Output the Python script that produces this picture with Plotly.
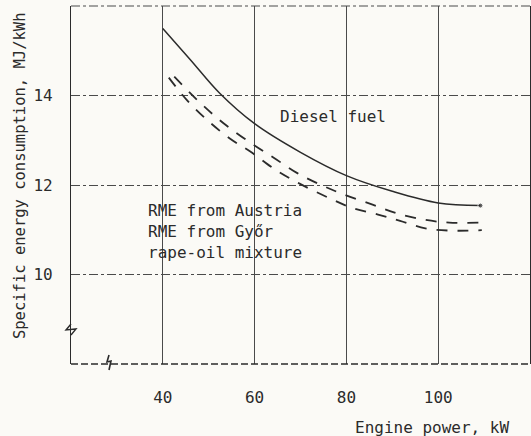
import plotly.graph_objects as go

INK = "#2b2b2b"
GRID = "#4a4a4a"
PAPER = "#fbfaf6"
FONT = "DejaVu Sans Mono"

# Diesel fuel (solid)
diesel_kw = [40, 46, 52.4, 60, 70, 80, 90, 100, 109.2]
diesel_mj = [15.50, 14.80, 14.05, 13.37, 12.73, 12.21, 11.86, 11.60, 11.54]

# upper dashed curve
rme_austria_kw = [42.5, 47.5, 52.4, 58.0, 64.0, 69.4, 74.7, 79.4, 85.7, 91.2, 97.2, 102.4, 109.5]
rme_austria_mj = [14.42, 13.90, 13.45, 13.02, 12.62, 12.26, 11.99, 11.79, 11.56, 11.36, 11.22, 11.16, 11.16]

# lower dashed curve
rme_gyor_kw = [41.3, 45.4, 49.9, 54.6, 59.3, 64.7, 69.8, 76.0, 81.2, 86.9, 91.7, 97.2, 103.0, 109.5]
rme_gyor_mj = [14.40, 13.88, 13.43, 13.04, 12.73, 12.33, 12.03, 11.72, 11.49, 11.34, 11.20, 11.03, 10.98, 10.99]

x_ticks = [40, 60, 80, 100]
x_tick_text = ["40", "60", "80", "100"]
y_ticks = [10, 12, 14]
y_tick_text = ["10", "12", "14"]

fig = go.Figure()
fig.add_trace(go.Scatter(
    x=diesel_kw, y=diesel_mj, mode="lines+markers", line_shape="spline",
    line=dict(color=INK, width=1.5),
    marker=dict(size=[0] * (len(diesel_kw) - 1) + [5], color=INK),
    name="Diesel fuel", showlegend=False,
))
fig.add_trace(go.Scatter(
    x=rme_austria_kw, y=rme_austria_mj, mode="lines", line_shape="spline",
    line=dict(color=INK, width=1.8, dash="11px,10px"),
    name="RME from Austria", showlegend=False,
))
fig.add_trace(go.Scatter(
    x=rme_gyor_kw, y=rme_gyor_mj, mode="lines", line_shape="spline",
    line=dict(color=INK, width=1.8, dash="11px,10px"),
    name="RME from Győr", showlegend=False,
))

# frame: dashed bottom, dash-dot top, broken-axis marks
fig.add_shape(type="line", xref="paper", yref="paper", x0=0, x1=1, y0=0, y1=0,
              line=dict(color=INK, width=1.3, dash="7px,3px"))
fig.add_shape(type="line", xref="paper", yref="paper", x0=0, x1=1, y0=1, y1=1,
              line=dict(color=GRID, width=1.2, dash="dashdot"))
fig.add_shape(type="path", xref="paper", yref="paper",
              path="M 0,0.1117 L -0.0109,0.095 L 0.0109,0.0978 L 0,0.081",
              line=dict(color=INK, width=1.4))
fig.add_shape(type="path", xref="paper", yref="paper",
              path="M 0.0828,0.0251 L 0.0784,0.0056 L 0.0871,0.0084 L 0.0828,-0.0168",
              line=dict(color=INK, width=1.6))

fig.add_annotation(x=65.2, y=13.52, text="Diesel fuel", showarrow=False, xanchor="left",
                   font=dict(family=FONT, size=16, color=INK))
fig.add_annotation(x=36.3, y=10.95, text="RME from Austria<br>RME from Győr<br>rape-oil mixture",
                   showarrow=False, xanchor="left", yanchor="middle", align="left",
                   font=dict(family=FONT, size=16, color=INK))
fig.add_annotation(xref="paper", yref="paper", x=0.958, y=-0.176, text="Engine power, kW",
                   showarrow=False, xanchor="right", yanchor="middle",
                   font=dict(family=FONT, size=16, color=INK))
fig.add_annotation(xref="paper", yref="paper", x=-0.111, y=0.525,
                   text="Specific energy consumption, MJ/kWh", textangle=-90,
                   showarrow=False, xanchor="center", yanchor="middle",
                   font=dict(family=FONT, size=15.5, color=INK))

fig.update_layout(
    width=531, height=436,
    paper_bgcolor=PAPER, plot_bgcolor=PAPER,
    margin=dict(l=71, r=1, t=6, b=72),
    font=dict(family=FONT, size=16, color=INK),
    showlegend=False,
)
fig.update_xaxes(
    range=[20, 120], tickvals=x_ticks, ticktext=x_tick_text, automargin=False,
    showgrid=True, gridcolor=GRID, gridwidth=1, zeroline=False,
    showline=False, ticks="outside", ticklen=19, tickcolor="rgba(0,0,0,0)",
)
fig.update_yaxes(
    range=[8, 16], tickvals=y_ticks, ticktext=y_tick_text, automargin=False,
    showgrid=True, gridcolor=GRID, gridwidth=1, griddash="dashdot", zeroline=False,
    showline=True, linecolor=INK, linewidth=1.3, mirror=True,
    ticks="outside", ticklen=14, tickcolor="rgba(0,0,0,0)",
)
fig.write_html("out.html", config={"displayModeBar": False},
               post_script="document.body.style.margin='0';")
